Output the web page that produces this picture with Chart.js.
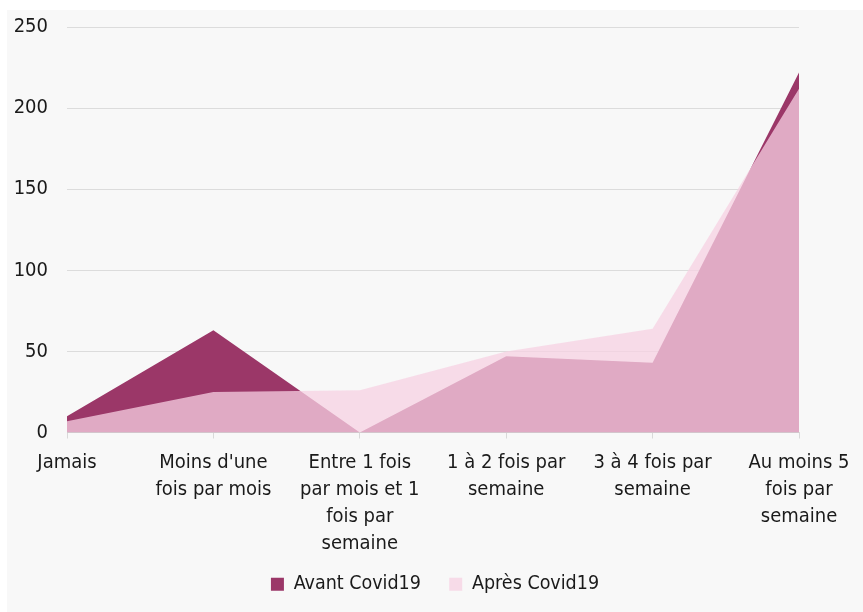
<!DOCTYPE html>
<html>
<head>
<meta charset="utf-8">
<script src="https://cdn.jsdelivr.net/npm/chart.js@4.4.1/dist/chart.umd.min.js"></script>
<style>
  html, body { margin: 0; padding: 0; background: #ffffff; }
  #panel {
    position: absolute; left: 7px; top: 10px;
    width: 856px; height: 602px;
    background: #f8f8f8;
  }
  #chart { display: block; }
</style>
</head>
<body>
<div id="panel"><canvas id="chart" width="856" height="602"></canvas></div>
<script>
// Catégories (axe X)
const categories = [
  "Jamais",
  ["Moins d'une", "fois par mois"],
  ["Entre 1 fois", "par mois et 1", "fois par", "semaine"],
  ["1 à 2 fois par", "semaine"],
  ["3 à 4 fois par", "semaine"],
  ["Au moins 5", "fois par", "semaine"]
];

// Séries
const avantCovid = [10, 63, 0, 47, 43, 222];
const apresCovid = [7, 25, 26, 50, 64, 212];

// Graduations de l'axe Y
const yTicks = [0, 50, 100, 150, 200, 250];

const FONT = "'Liberation Sans Narrow', 'DejaVu Sans Condensed', 'Arial Narrow', sans-serif";
const TEXT = "#1a1a1a";

const ctx = document.getElementById("chart").getContext("2d");

new Chart(ctx, {
  type: "line",
  data: {
    labels: categories,
    datasets: [
      {
        label: "Avant Covid19",
        data: avantCovid,
        backgroundColor: "#9b3768",
        borderWidth: 0,
        pointRadius: 0,
        fill: "origin",
        tension: 0,
        order: 1
      },
      {
        label: "Après Covid19",
        data: apresCovid,
        backgroundColor: "rgba(247,209,227,0.75)",
        borderWidth: 0,
        pointRadius: 0,
        fill: "origin",
        tension: 0,
        order: 0
      }
    ]
  },
  options: {
    responsive: false,
    animation: false,
    layout: { padding: { top: 17, right: 0, left: 0, bottom: 8 } },
    scales: {
      x: {
        offset: false,
        grid: { drawOnChartArea: false, drawTicks: true, tickLength: 6, color: "#d9d9d9" },
        border: { display: true, color: "#d9d9d9" },
        ticks: {
          color: TEXT, font: { family: FONT, size: 20, lineHeight: 1.35 },
          maxRotation: 0, autoSkip: false, padding: 11
        },
        // marge droite fixe (le dernier libellé déborde à droite)
        afterFit: axis => { axis.paddingRight = 64; }
      },
      y: {
        min: 0, max: 250,
        afterBuildTicks: axis => { axis.ticks = yTicks.map(v => ({ value: v })); },
        grid: { drawTicks: false, color: "#dcdcdc" },
        border: { display: false },
        ticks: { color: TEXT, font: { family: FONT, size: 20 }, padding: 19 },
        afterFit: axis => { axis.width = 60; axis.paddingTop = 0; }
      }
    },
    plugins: {
      tooltip: { enabled: false },
      legend: {
        position: "bottom",
        labels: {
          color: TEXT,
          font: { family: FONT, size: 19.5 },
          boxWidth: 13, boxHeight: 13,
          padding: 6,
          generateLabels: chart => {
            const items = Chart.defaults.plugins.legend.labels.generateLabels(chart);
            items.sort((a, b) => a.datasetIndex - b.datasetIndex);
            // un peu plus d'espace entre les deux entrées
            items.slice(0, -1).forEach(it => { it.text += "    "; });
            return items;
          }
        }
      }
    }
  }
});
</script>
</body>
</html>
